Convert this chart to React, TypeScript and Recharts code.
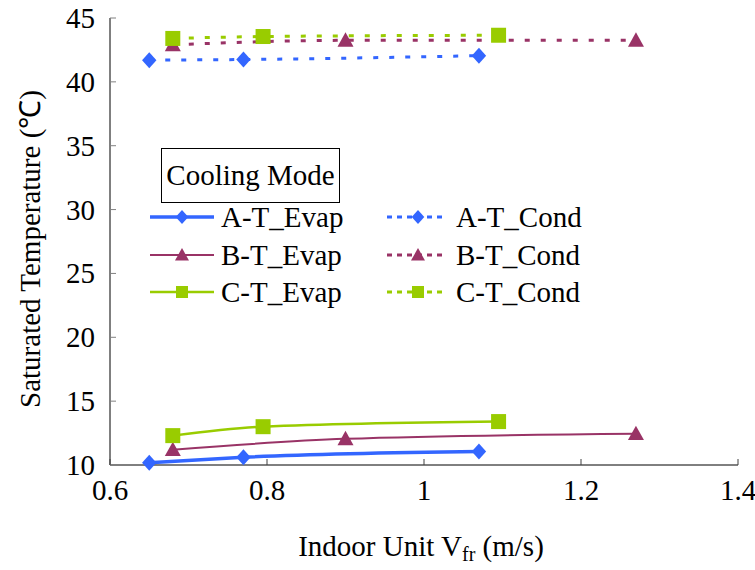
import { LineChart, Line, XAxis, YAxis, Label } from "recharts";

const xTicks = [0.6, 0.8, 1, 1.2, 1.4];
const yTicks = [10, 15, 20, 25, 30, 35, 40, 45];

// velocity (m/s) vs saturated temperature (°C)
const aEvap = [{ v: 0.65, t: 10.18 }, { v: 0.77, t: 10.6 }, { v: 1.07, t: 11.05 }];
const bEvap = [{ v: 0.68, t: 11.2 }, { v: 0.9, t: 12.05 }, { v: 1.27, t: 12.45 }];
const cEvap = [{ v: 0.68, t: 12.3 }, { v: 0.795, t: 13.0 }, { v: 1.095, t: 13.4 }];
const aCond = [{ v: 0.65, t: 41.7 }, { v: 0.77, t: 41.75 }, { v: 1.07, t: 42.05 }];
const bCond = [{ v: 0.68, t: 42.9 }, { v: 0.9, t: 43.25 }, { v: 1.27, t: 43.25 }];
const cCond = [{ v: 0.68, t: 43.4 }, { v: 0.795, t: 43.55 }, { v: 1.095, t: 43.65 }];

const BLUE = "#3366FF";
const MAROON = "#993366";
const GREEN = "#99CC00";
const FONT = "Liberation Serif";
const txt = { fontFamily: FONT, fontSize: 29 };

const Diamond = ({ cx, cy, fill, size = 8 }: any) => (
  <path d={`M${cx},${cy - size}L${cx + size * 0.9},${cy}L${cx},${cy + size}L${cx - size * 0.9},${cy}Z`} fill={fill} />
);
const Triangle = ({ cx, cy, fill, size = 8 }: any) => (
  <path d={`M${cx},${cy - size}L${cx + size},${cy + size * 0.8}L${cx - size},${cy + size * 0.8}Z`} fill={fill} />
);
const Square = ({ cx, cy, fill, size = 7.5 }: any) => (
  <rect x={cx - size} y={cy - size} width={size * 2} height={size * 2} fill={fill} />
);

const YTick = ({ x, y, payload }: any) => (
  <g>
    <line x1={x} x2={x + 6} y1={y} y2={y} stroke="#808080" />
    <text x={x - 15} y={y + 10} textAnchor="end" style={txt} fill="#000">
      {payload.value}
    </text>
  </g>
);

const XTick = ({ x, y, payload }: any) => (
  <g>
    <line x1={x} x2={x} y1={y} y2={y - 6} stroke="#404040" />
    <text x={x} y={y + 35} textAnchor="middle" style={txt} fill="#000">
      {payload.value}
    </text>
  </g>
);

const series = [
  { name: "A-T_Evap", data: aEvap, color: BLUE, width: 3.5, dash: undefined, Marker: Diamond },
  { name: "B-T_Evap", data: bEvap, color: MAROON, width: 2, dash: undefined, Marker: Triangle },
  { name: "C-T_Evap", data: cEvap, color: GREEN, width: 2.5, dash: undefined, Marker: Square },
  { name: "A-T_Cond", data: aCond, color: BLUE, width: 3, dash: "5 11", Marker: Diamond },
  { name: "B-T_Cond", data: bCond, color: MAROON, width: 3, dash: "5 11", Marker: Triangle },
  { name: "C-T_Cond", data: cCond, color: GREEN, width: 3, dash: "5 11", Marker: Square },
];

const LegendItem = ({ s, left, top }: any) => {
  const M = s.Marker;
  return (
    <div style={{ position: "absolute", left, top, display: "flex", alignItems: "center", height: 30 }}>
      <svg width={s.dash ? 56 : 64} height={20} style={{ marginRight: s.dash ? 13 : 7 }}>
        <line
          x1={0}
          x2={s.dash ? 56 : 64}
          y1={10}
          y2={10}
          stroke={s.color}
          strokeWidth={s.dash ? 3 : s.width}
          strokeDasharray={s.dash ? "5 5" : undefined}
        />
        <M cx={s.dash ? 31 : 32} cy={10} fill={s.color} size={s.Marker === Square ? 6 : 7} />
      </svg>
      <span style={{ fontFamily: FONT, fontSize: 29, color: "#000", lineHeight: "30px" }}>{s.name}</span>
    </div>
  );
};

export default function App() {
  return (
    <div style={{ position: "absolute", left: 0, top: 0, width: 755, height: 570, background: "#fff" }}>
      <LineChart width={755} height={570} margin={{ top: 18, right: 17, bottom: 75, left: 50 }}>
        <XAxis
          dataKey="v"
          type="number"
          domain={[0.6, 1.4]}
          ticks={xTicks}
          allowDataOverflow
          stroke="#000"
          tickSize={0}
          tickMargin={0}
          tick={<XTick />}
          height={30}
        >
          <Label
            content={() => (
              <text x={421} y={556} textAnchor="middle" style={txt} fill="#000">
                Indoor Unit V
                <tspan style={{ fontSize: 20 }} dy={5}>fr</tspan>
                <tspan dy={-5}> (m/s)</tspan>
              </text>
            )}
          />
        </XAxis>
        <YAxis
          type="number"
          domain={[10, 45]}
          ticks={yTicks}
          stroke="#000"
          tickSize={0}
          tickMargin={0}
          tick={<YTick />}
          width={60}
        >
          <Label
            content={() => (
              <text
                x={0}
                y={0}
                transform="translate(40,249) rotate(-90)"
                textAnchor="middle"
                style={txt}
                fill="#000"
              >
                Saturated Temperature (℃)
              </text>
            )}
          />
        </YAxis>
        {series.map((s) => (
          <Line
            key={s.name}
            data={s.data}
            dataKey="t"
            name={s.name}
            type="monotone"
            stroke={s.color}
            strokeWidth={s.width}
            strokeDasharray={s.dash}
            isAnimationActive={false}
            dot={(p: any) => <s.Marker key={p.index} cx={p.cx} cy={p.cy} fill={s.color} />}
            activeDot={false}
          />
        ))}
      </LineChart>
      <div
        style={{
          position: "absolute",
          left: 161,
          top: 148,
          width: 177,
          height: 53,
          border: "1px solid #000",
          background: "#fff",
          fontFamily: FONT,
          fontSize: 29,
          lineHeight: "53px",
          textAlign: "center",
        }}
      >
        Cooling Mode
      </div>
      {series.slice(0, 3).map((s, i) => (
        <LegendItem key={s.name} s={s} left={150} top={202 + i * 37.5} />
      ))}
      {series.slice(3).map((s, i) => (
        <LegendItem key={s.name} s={s} left={387} top={202 + i * 37.5} />
      ))}
    </div>
  );
}
